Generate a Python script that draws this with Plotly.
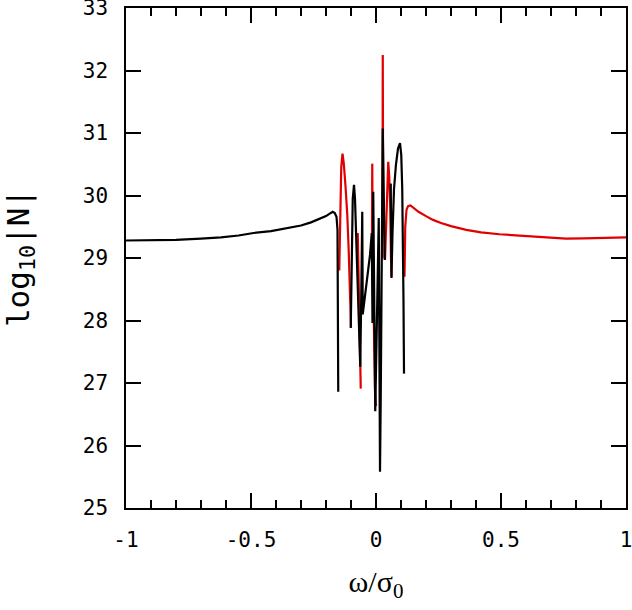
import plotly.graph_objects as go

# black curve (None = break in the line)
black_x = [-1.0, -0.9, -0.8, -0.7, -0.62, -0.55, -0.49, -0.42, -0.36, -0.30, -0.26, -0.22,
           -0.20, -0.185, -0.173, -0.165, -0.158, -0.154, -0.152, -0.151,
           None,
           -0.101, -0.097, -0.093, -0.088, -0.084, -0.079, -0.072, -0.067, -0.063, -0.059,
           -0.055, -0.053, -0.050, -0.044, -0.034, -0.024, -0.017, -0.014, -0.011, -0.007,
           -0.003, 0.005, 0.011, 0.014, 0.016, 0.019, 0.021, 0.024, 0.027, 0.031, 0.035,
           None,
           0.059, 0.062, 0.066, 0.072, 0.080, 0.088, 0.096, 0.101, 0.105, 0.108, 0.110, 0.112]
black_y = [29.28, 29.285, 29.29, 29.31, 29.33, 29.36, 29.40, 29.43, 29.47, 29.52, 29.57, 29.63,
           29.67, 29.71, 29.74, 29.72, 29.66, 29.45, 28.5, 26.86,
           None,
           27.88, 29.30, 29.95, 30.17, 29.95, 29.30, 28.30, 27.60, 27.26, 28.40,
           29.74, 28.10, 28.20, 28.44, 28.75, 29.05, 29.40, 27.96, 30.06, 28.10,
           26.55, 28.30, 29.64, 27.20, 25.58, 26.80, 27.64, 29.40, 31.07, 30.0, 28.97,
           None,
           30.19, 28.68, 29.40, 30.10, 30.50, 30.75, 30.84, 30.65, 30.10, 29.30, 28.30, 27.15]

# red curve
red_x = [-0.147, -0.143, -0.139, -0.134, -0.129, -0.122, -0.115, -0.109, -0.104, -0.100,
         None,
         -0.073, -0.069, -0.066, -0.063, -0.061,
         None,
         -0.016, -0.015, -0.013, -0.009, -0.004, 0.000,
         None,
         0.026, 0.027, 0.029,
         None,
         0.036, 0.041, 0.046, 0.049, 0.053, 0.057, 0.060, 0.062,
         None,
         0.114, 0.117, 0.122, 0.128, 0.138, 0.15, 0.17, 0.20, 0.228, 0.26, 0.30, 0.361,
         0.42, 0.494, 0.56, 0.626, 0.70, 0.76, 0.83, 0.892, 0.95, 1.0]
red_y = [28.80, 29.90, 30.45, 30.67, 30.52, 30.15, 29.70, 29.10, 28.30, 27.90,
         None,
         29.40, 28.70, 27.90, 27.30, 26.91,
         None,
         29.30, 30.51, 29.00, 27.80, 26.90, 26.63,
         None,
         29.00, 32.25, 29.50,
         None,
         28.97, 29.70, 30.30, 30.54, 30.30, 29.80, 29.00, 28.70,
         None,
         28.70, 29.50, 29.77, 29.83, 29.84, 29.80, 29.74, 29.67, 29.61, 29.56, 29.51, 29.45,
         29.41, 29.38, 29.36, 29.34, 29.32, 29.31, 29.315, 29.32, 29.325, 29.33]

x_ticks = [-1, -0.5, 0, 0.5, 1]
x_ticktext = ["-1", "-0.5", "0", "0.5", "1"]
y_ticks = [25, 26, 27, 28, 29, 30, 31, 32, 33]
y_ticktext = ["25", "26", "27", "28", "29", "30", "31", "32", "33"]

mono = "DejaVu Sans Mono"

fig = go.Figure()
fig.add_trace(go.Scatter(x=red_x, y=red_y, mode="lines", connectgaps=False,
                         line=dict(color="#e00000", width=2.2)))
fig.add_trace(go.Scatter(x=black_x, y=black_y, mode="lines", connectgaps=False,
                         line=dict(color="black", width=2.2)))

fig.update_layout(
    width=632, height=610,
    margin=dict(l=126, r=6, t=8, b=102),
    paper_bgcolor="white", plot_bgcolor="white",
    showlegend=False,
)
fig.update_xaxes(
    range=[-1, 1], tickvals=x_ticks, ticktext=x_ticktext,
    ticks="inside", ticklen=15, tickwidth=1.5, tickcolor="black",
    minor=dict(tickmode="linear", tick0=-1, dtick=0.1, ticks="inside",
               ticklen=8, tickwidth=1.5, tickcolor="black"),
    showline=True, linecolor="black", linewidth=1.5, mirror="allticks",
    showgrid=False, zeroline=False, automargin=False,
    tickfont=dict(family=mono, size=21, color="black"),
    ticklabelstandoff=12, ticklabeloverflow="allow",
    title=dict(text="ω/σ<sub>0</sub>", standoff=20,
               font=dict(family="Liberation Serif", size=30, color="black")),
)
fig.update_yaxes(
    range=[25, 33], tickvals=y_ticks, ticktext=y_ticktext,
    ticks="inside", ticklen=15, tickwidth=1.5, tickcolor="black",
    showline=True, linecolor="black", linewidth=1.5, mirror="allticks",
    showgrid=False, zeroline=False, automargin=False,
    tickfont=dict(family=mono, size=21, color="black"),
    ticklabelstandoff=12, ticklabeloverflow="allow",
    title=dict(text="log<sub>10</sub>|N|", standoff=85,
               font=dict(family=mono, size=31, color="black")),
)

# drop the page's default 8px body margin so the figure fills the window
fig.write_html("out.html", config={"displayModeBar": False},
               post_script="document.body.style.margin = '0';")
